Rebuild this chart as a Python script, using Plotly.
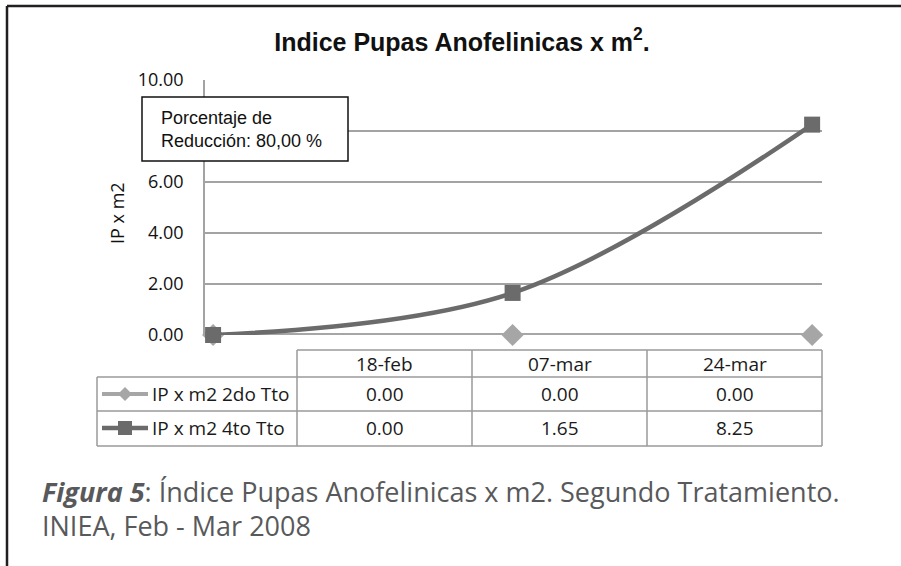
import plotly.graph_objects as go

# ---- data ----
categories = ["18-feb", "07-mar", "24-mar"]
serie_2do = [0.00, 0.00, 0.00]
serie_4to = [0.00, 1.65, 8.25]
series_names = ["IP x m2 2do Tto", "IP x m2 4to Tto"]
y_ticks = [0, 2, 4, 6, 8, 10]
title_text = "Indice Pupas Anofelinicas x m<sup>2</sup>."
y_title = "IP x m2"
box_text = "Porcentaje de<br>Reducción: 80,00 %"
caption_1 = "<b><i>Figura 5</i></b>: Índice Pupas Anofelinicas x m2. Segundo Tratamiento."
caption_2 = "INIEA, Feb - Mar 2008"

# ---- layout geometry (pixels) ----
W, H = 901, 566
L, R, T, B = 205, 822, 80, 335


def px(x):
    return (x - L) / (R - L)


def py(y):
    return (B - y) / (B - T)


c_light = "#a6a6a6"
c_dark = "#6b6b6b"
grid_c = "#a3a3a3"
table_font = dict(family="Open Sans", size=19, color="#1a1a1a")

xpos = list(range(len(categories)))

fig = go.Figure()
fig.add_trace(go.Scatter(
    x=xpos, y=serie_2do, name=series_names[0], mode="lines+markers",
    line=dict(color=c_light, width=4, shape="spline"),
    marker=dict(symbol="diamond", size=17, color=c_light),
    cliponaxis=False, showlegend=False))
fig.add_trace(go.Scatter(
    x=xpos, y=serie_4to, name=series_names[1], mode="lines+markers",
    line=dict(color=c_dark, width=4.5, shape="spline", smoothing=1),
    marker=dict(symbol="square", size=16, color=c_dark),
    cliponaxis=False, showlegend=False))

shapes = []
# outer frame
shapes.append(dict(type="line", xref="paper", yref="paper", x0=px(7), x1=px(7), y0=py(6), y1=py(566),
                   line=dict(color="#231f20", width=2.5)))
shapes.append(dict(type="line", xref="paper", yref="paper", x0=px(7), x1=px(901), y0=py(6), y1=py(6),
                   line=dict(color="#231f20", width=2.5)))

# data table grid
tl = dict(color="#9a9a9a", width=1.5)
col_x = [297, 472, 647, 822]
row_y = [350, 377, 411, 446]
shapes.append(dict(type="line", xref="paper", yref="paper", x0=px(297), x1=px(822), y0=py(350), y1=py(350), line=tl))
for yy in row_y[1:]:
    shapes.append(dict(type="line", xref="paper", yref="paper", x0=px(97), x1=px(822), y0=py(yy), y1=py(yy), line=tl))
shapes.append(dict(type="line", xref="paper", yref="paper", x0=px(97), x1=px(97), y0=py(377), y1=py(446), line=tl))
for xx in col_x:
    shapes.append(dict(type="line", xref="paper", yref="paper", x0=px(xx), x1=px(xx), y0=py(350), y1=py(446), line=tl))

# legend keys in table
ky1, ky2 = 394, 428
shapes.append(dict(type="line", xref="paper", yref="paper", x0=px(102), x1=px(148), y0=py(ky1), y1=py(ky1),
                   line=dict(color=c_light, width=4)))
d = 7
shapes.append(dict(type="path", xref="paper", yref="paper",
                   path=f"M {px(125-d)} {py(ky1)} L {px(125)} {py(ky1-d)} L {px(125+d)} {py(ky1)} L {px(125)} {py(ky1+d)} Z",
                   fillcolor=c_light, line=dict(width=0)))
shapes.append(dict(type="line", xref="paper", yref="paper", x0=px(102), x1=px(148), y0=py(ky2), y1=py(ky2),
                   line=dict(color=c_dark, width=4.5)))
shapes.append(dict(type="rect", xref="paper", yref="paper", x0=px(118), x1=px(132), y0=py(ky2-7), y1=py(ky2+7),
                   fillcolor=c_dark, line=dict(width=0)))

# text box
shapes.append(dict(type="rect", xref="paper", yref="paper", x0=px(142), x1=px(348), y0=py(97), y1=py(161),
                   fillcolor="white", line=dict(color="#111", width=1.5), layer="above"))

annotations = []
annotations.append(dict(text=box_text, xref="paper", yref="paper", x=px(159), y=py(129), xanchor="left",
                        yanchor="middle", align="left", showarrow=False,
                        font=dict(family="Liberation Sans", size=18, color="#111")))
annotations.append(dict(text=y_title, xref="paper", yref="paper", x=px(117), y=py(213), textangle=-90,
                        xanchor="center", yanchor="middle",
                        showarrow=False, font=dict(family="Open Sans", size=18, color="#111")))
# table header and values
centers = [(col_x[i] + col_x[i + 1]) / 2 for i in range(3)]
for i, cat in enumerate(categories):
    annotations.append(dict(text=cat, xref="paper", yref="paper", x=px(centers[i]), y=py(363.5),
                            xanchor="center", yanchor="middle", showarrow=False, font=table_font))
    annotations.append(dict(text=f"{serie_2do[i]:.2f}", xref="paper", yref="paper", x=px(centers[i]), y=py(394),
                            xanchor="center", yanchor="middle", showarrow=False, font=table_font))
    annotations.append(dict(text=f"{serie_4to[i]:.2f}", xref="paper", yref="paper", x=px(centers[i]), y=py(428),
                            xanchor="center", yanchor="middle", showarrow=False, font=table_font))
for name, yy in zip(series_names, [ky1, ky2]):
    annotations.append(dict(text=name, xref="paper", yref="paper", x=px(150), y=py(yy), xanchor="left",
                            yanchor="middle", showarrow=False, font=table_font))
# caption
cap_font = dict(family="Open Sans", size=27, color="#58595b")
annotations.append(dict(text=caption_1, xref="paper", yref="paper", x=px(40), y=py(491), xanchor="left",
                        yanchor="middle", showarrow=False, font=cap_font))
annotations.append(dict(text=caption_2, xref="paper", yref="paper", x=px(40), y=py(525), xanchor="left",
                        yanchor="middle", showarrow=False, font=cap_font))

fig.update_layout(
    width=W, height=H,
    margin=dict(l=L, r=W - R, t=T, b=H - B, autoexpand=False),
    paper_bgcolor="white", plot_bgcolor="white",
    title=dict(text=title_text, x=462 / W, xanchor="center", y=1 - 42 / H, yanchor="middle",
               font=dict(family="Liberation Sans", size=25, color="#111", weight="bold")),
    xaxis=dict(range=[-0.027, 2.033], showticklabels=False, showgrid=False, zeroline=False,
               showline=False, ticks="", fixedrange=True),
    yaxis=dict(range=[0, 10], tickvals=y_ticks, tickformat=".2f", showgrid=True, gridcolor=grid_c,
               gridwidth=1.5, zeroline=False, showline=True, linecolor=grid_c, linewidth=1.5,
               ticks="", ticklabelstandoff=16,
               tickfont=dict(family="Open Sans", size=18, color="#111")),
    shapes=shapes, annotations=annotations,
)

fig.write_html("out.html", config={"displayModeBar": False},
               post_script="document.body.style.margin='0';")
